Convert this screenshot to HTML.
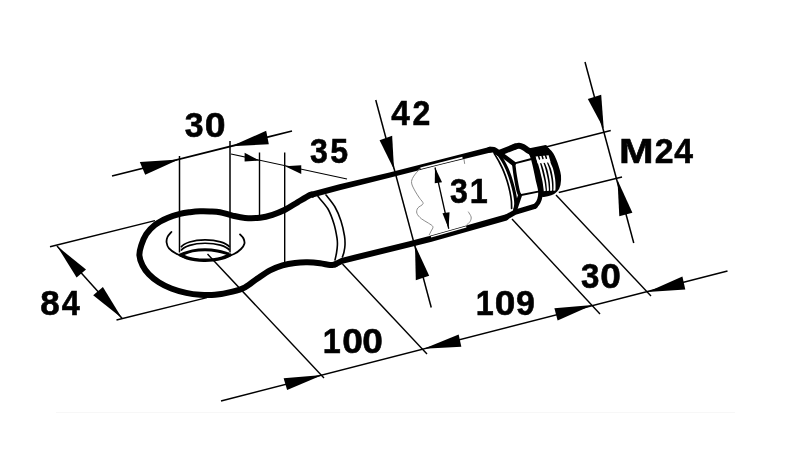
<!DOCTYPE html>
<html><head><meta charset="utf-8"><title>Drawing</title>
<style>
html,body{margin:0;padding:0;background:#fff;}
body{width:800px;height:450px;overflow:hidden;}
svg{display:block;}
text{font-family:"Liberation Sans",sans-serif;font-weight:bold;fill:#000;}
</style></head><body>
<svg width="800" height="450" viewBox="0 0 800 450">
<rect width="800" height="450" fill="#fff"/>
<line x1="56.00" y1="412.50" x2="735.00" y2="412.50" stroke="#f7f7f7" stroke-width="1.00"/>
<line x1="112.00" y1="176.00" x2="292.00" y2="131.00" stroke="#000" stroke-width="1.70"/>
<line x1="231.00" y1="154.00" x2="347.00" y2="179.00" stroke="#000" stroke-width="1.10"/>
<line x1="179.50" y1="156.00" x2="179.50" y2="252.50" stroke="#000" stroke-width="1.50"/>
<line x1="230.00" y1="141.00" x2="230.00" y2="252.50" stroke="#000" stroke-width="1.50"/>
<line x1="259.50" y1="152.50" x2="259.50" y2="216.00" stroke="#000" stroke-width="1.40"/>
<line x1="284.70" y1="152.50" x2="284.70" y2="263.00" stroke="#000" stroke-width="1.40"/>
<line x1="50.00" y1="246.80" x2="155.00" y2="220.60" stroke="#000" stroke-width="1.40"/>
<line x1="116.50" y1="320.00" x2="207.00" y2="297.60" stroke="#000" stroke-width="1.40"/>
<line x1="57.00" y1="246.00" x2="122.00" y2="318.30" stroke="#000" stroke-width="1.50"/>
<line x1="207.50" y1="254.00" x2="324.00" y2="378.00" stroke="#000" stroke-width="1.40"/>
<line x1="342.50" y1="264.00" x2="427.00" y2="354.00" stroke="#000" stroke-width="1.40"/>
<line x1="512.00" y1="219.00" x2="600.00" y2="314.00" stroke="#000" stroke-width="1.40"/>
<line x1="556.00" y1="195.00" x2="651.00" y2="296.00" stroke="#000" stroke-width="1.40"/>
<line x1="221.00" y1="401.00" x2="727.50" y2="271.00" stroke="#000" stroke-width="1.50"/>
<line x1="375.75" y1="100.00" x2="431.25" y2="307.50" stroke="#000" stroke-width="1.50"/>
<line x1="435.00" y1="167.50" x2="448.75" y2="228.75" stroke="#000" stroke-width="1.30"/>
<line x1="585.00" y1="62.00" x2="633.75" y2="243.00" stroke="#000" stroke-width="1.50"/>
<line x1="544.00" y1="147.50" x2="610.75" y2="130.50" stroke="#000" stroke-width="1.40"/>
<line x1="558.75" y1="192.50" x2="622.00" y2="177.00" stroke="#000" stroke-width="1.40"/>
<polygon points="178.75,159.50 139.82,162.09 145.18,174.66" fill="#000"/>
<polygon points="231.25,146.25 266.16,130.81 268.84,144.19" fill="#000"/>
<polygon points="259.40,160.60 244.60,152.82 244.60,161.38" fill="#000"/>
<polygon points="285.00,166.25 301.25,165.21 301.25,174.04" fill="#000"/>
<polygon points="57.00,246.00 76.60,277.40 86.00,269.60" fill="#000"/>
<polygon points="122.00,318.30 93.20,295.20 102.90,287.00" fill="#000"/>
<polygon points="394.00,169.50 379.59,140.14 392.16,135.86" fill="#000"/>
<polygon points="415.00,245.00 415.81,280.14 429.19,275.86" fill="#000"/>
<polygon points="435.00,167.50 434.76,183.34 442.04,182.16" fill="#000"/>
<polygon points="448.60,228.50 442.47,213.34 449.53,212.16" fill="#000"/>
<polygon points="603.75,128.75 587.81,98.88 601.19,94.87" fill="#000"/>
<polygon points="617.50,180.00 619.30,216.20 632.40,212.80" fill="#000"/>
<polygon points="322.50,375.00 283.64,378.37 287.11,389.88" fill="#000"/>
<polygon points="423.75,348.75 458.66,334.61 461.34,346.64" fill="#000"/>
<polygon points="592.50,305.00 554.39,308.36 557.61,320.39" fill="#000"/>
<polygon points="647.50,292.00 682.40,276.60 685.30,289.40" fill="#000"/>
<polygon points="311.76,197.70 340.72,190.06 390.63,177.42 440.64,164.72 490.70,152.51 489.30,146.89 439.36,159.68 389.37,172.38 339.28,184.34 310.24,191.90" fill="#000"/>
<circle cx="490" cy="149.7" r="2.9"/>
<path d="M312.00,194.80 C311.67,194.83 312.42,193.75 310.00,195.00 C307.58,196.25 301.67,199.83 297.50,202.30 C293.33,204.77 289.17,207.72 285.00,209.80 C280.83,211.88 276.67,213.49 272.50,214.80 C268.33,216.11 264.58,217.13 260.00,217.65 C255.42,218.17 249.58,218.24 245.00,217.90 C240.42,217.56 236.67,216.55 232.50,215.60 C228.33,214.65 223.75,212.90 220.00,212.20 C216.25,211.50 213.33,211.55 210.00,211.40 C206.67,211.25 203.33,211.17 200.00,211.30 C196.67,211.43 193.33,211.77 190.00,212.20 C186.67,212.63 183.75,212.95 180.00,213.90 C176.25,214.85 171.67,216.08 167.50,217.90 C163.33,219.72 158.54,222.09 155.00,224.80 C151.46,227.51 148.54,230.72 146.25,234.15 C143.96,237.58 142.39,241.86 141.25,245.40 C140.11,248.94 139.19,252.07 139.40,255.40 C139.61,258.73 140.94,262.27 142.50,265.40 C144.06,268.52 146.04,271.33 148.75,274.15 C151.46,276.97 155.00,279.91 158.75,282.30 C162.50,284.69 166.67,286.73 171.25,288.50 C175.83,290.27 181.46,291.85 186.25,292.90 C191.04,293.95 195.21,294.48 200.00,294.80 C204.79,295.12 209.58,295.32 215.00,294.80 C220.42,294.27 227.50,292.90 232.50,291.65 C237.50,290.40 240.83,289.49 245.00,287.30 C249.17,285.11 253.33,281.32 257.50,278.50 C261.67,275.68 265.83,272.58 270.00,270.40 C274.17,268.22 278.33,266.65 282.50,265.40 C286.67,264.15 290.83,263.42 295.00,262.90 C299.17,262.38 303.33,262.25 307.50,262.30 C311.67,262.35 316.25,262.75 320.00,263.20 C323.75,263.65 327.50,264.80 330.00,265.00 C332.50,265.20 334.17,264.50 335.00,264.40" fill="none" stroke="#000" stroke-width="6.00" stroke-linecap="round" stroke-linejoin="round" />
<path d="M335,264.4 L342,260.8 L410,244.1 L430,239 L506,217.5" fill="none" stroke="#000" stroke-width="6.00" stroke-linecap="round" stroke-linejoin="round" />
<path d="M318.00,196.60 C319.67,198.67 325.33,204.43 328.00,209.00 C330.67,213.57 332.50,219.17 334.00,224.00 C335.50,228.83 336.43,234.50 337.00,238.00 C337.57,241.50 337.48,242.50 337.40,245.00 C337.32,247.50 336.90,250.50 336.50,253.00 C336.10,255.50 335.25,258.83 335.00,260.00" fill="none" stroke="#000" stroke-width="1.60" stroke-linecap="round" stroke-linejoin="round" />
<path d="M326.00,195.00 C327.50,197.00 332.50,202.67 335.00,207.00 C337.50,211.33 339.42,216.17 341.00,221.00 C342.58,225.83 343.83,232.00 344.50,236.00 C345.17,240.00 345.08,242.33 345.00,245.00 C344.92,247.67 344.43,250.00 344.00,252.00 C343.57,254.00 342.67,256.17 342.40,257.00" fill="none" stroke="#000" stroke-width="1.60" stroke-linecap="round" stroke-linejoin="round" />
<path d="M181,247.3 A25,9.5 0 0 1 229.5,247" fill="none" stroke="#000" stroke-width="1.7"/>
<path d="M181,250.6 A25,9.5 0 0 1 229.5,250.3" fill="none" stroke="#000" stroke-width="1.7"/>
<path d="M182.00,254.20 C183.75,253.65 188.67,251.63 192.50,250.90 C196.33,250.17 200.83,249.80 205.00,249.80 C209.17,249.80 213.67,250.23 217.50,250.90 C221.33,251.57 226.25,253.32 228.00,253.80" fill="none" stroke="#000" stroke-width="3.00" stroke-linecap="round" stroke-linejoin="round" />
<path d="M171.40,232.00 C170.75,232.83 168.30,235.25 167.50,237.00 C166.70,238.75 166.35,240.60 166.60,242.50 C166.85,244.40 167.43,246.57 169.00,248.40 C170.57,250.23 173.25,251.97 176.00,253.50 C178.75,255.03 182.33,256.62 185.50,257.60 C188.67,258.58 191.96,258.97 195.00,259.40 C198.04,259.83 200.75,260.13 203.75,260.20 C206.75,260.27 209.96,260.13 213.00,259.80 C216.04,259.47 218.50,259.17 222.00,258.20 C225.50,257.23 230.83,255.53 234.00,254.00 C237.17,252.47 239.27,250.71 241.00,249.00 C242.73,247.29 243.98,245.50 244.40,243.75 C244.82,242.00 244.23,240.06 243.50,238.50 C242.77,236.94 240.58,235.08 240.00,234.40" fill="none" stroke="#000" stroke-width="1.80" stroke-linecap="round" stroke-linejoin="round" />
<path d="M180.50,255.00 C181.58,255.47 184.58,257.03 187.00,257.80 C189.42,258.57 192.21,259.18 195.00,259.60 C197.79,260.02 200.75,260.25 203.75,260.30 C206.75,260.35 209.96,260.25 213.00,259.90 C216.04,259.55 219.17,259.02 222.00,258.20 C224.83,257.38 228.67,255.53 230.00,255.00" fill="none" stroke="#000" stroke-width="3.40" stroke-linecap="round" stroke-linejoin="round" />
<path d="M419.60,168.90 C418.55,170.23 414.63,174.53 413.30,176.90 C411.97,179.27 411.30,180.73 411.60,183.10 C411.90,185.47 413.77,188.58 415.10,191.10 C416.43,193.62 418.27,196.12 419.60,198.20 C420.93,200.28 423.40,201.97 423.10,203.60 C422.80,205.23 418.83,206.38 417.80,208.00 C416.77,209.62 416.32,211.52 416.90,213.30 C417.48,215.08 419.38,217.07 421.30,218.70 C423.22,220.33 426.47,221.77 428.40,223.10 C430.33,224.43 432.45,225.37 432.90,226.70 C433.35,228.03 431.70,229.77 431.10,231.10 C430.50,232.43 429.60,234.10 429.30,234.70" fill="none" stroke="#8c8c8c" stroke-width="1.00" stroke-linecap="round" stroke-linejoin="round" />
<path d="M420.5,168.2 L462.5,157.6" fill="none" stroke="#fff" stroke-width="1.70" stroke-linejoin="round" stroke-linecap="butt"/>
<path d="M468.40,212.00 C468.85,212.82 470.80,215.35 471.10,216.90 C471.40,218.45 470.93,219.97 470.20,221.30 C469.47,222.63 467.28,224.30 466.70,224.90" fill="none" stroke="#8c8c8c" stroke-width="1.00" stroke-linecap="round" stroke-linejoin="round" />
<path d="M464,159.4 L464.6,163.5" fill="none" stroke="#8c8c8c" stroke-width="1.00" stroke-linecap="round" stroke-linejoin="round" />
<path d="M431,236.9 L466.3,226.9" fill="none" stroke="#fff" stroke-width="1.50" stroke-linejoin="round" stroke-linecap="butt"/>
<path d="M490.00,149.70 C490.58,149.72 492.42,149.48 493.50,149.80 C494.58,150.12 495.58,151.05 496.50,151.60 C497.42,152.15 498.58,152.85 499.00,153.10" fill="none" stroke="#000" stroke-width="5.80" stroke-linecap="round" stroke-linejoin="round" />
<path d="M499,153.1 L515,146.6" fill="none" stroke="#000" stroke-width="6.00" stroke-linecap="round" stroke-linejoin="round" />
<path d="M515.00,146.60 C515.67,146.47 517.67,145.73 519.00,145.80 C520.33,145.87 521.67,146.35 523.00,147.00 C524.33,147.65 525.83,148.95 527.00,149.70 C528.17,150.45 529.50,151.20 530.00,151.50" fill="none" stroke="#000" stroke-width="6.00" stroke-linecap="round" stroke-linejoin="round" />
<path d="M530,151 L545,147.8" fill="none" stroke="#000" stroke-width="5.40" stroke-linecap="round" stroke-linejoin="round" />
<path d="M532.00,150.80 C534.08,150.33 541.73,148.20 544.50,148.00 C547.27,147.80 547.28,148.57 548.60,149.60 C549.92,150.63 551.27,152.38 552.40,154.20 C553.53,156.02 554.52,158.37 555.40,160.50 C556.28,162.63 556.97,164.50 557.70,167.00 C558.43,169.50 559.53,172.55 559.80,175.50 C560.07,178.45 559.88,182.15 559.30,184.70 C558.72,187.25 557.70,189.22 556.30,190.80 C554.90,192.38 552.98,193.37 550.90,194.20 C548.82,195.03 545.32,195.67 543.80,195.80 C542.28,195.93 542.22,195.97 541.80,195.00 C541.38,194.03 541.77,192.50 541.30,190.00 C540.83,187.50 539.80,183.67 539.00,180.00 C538.20,176.33 537.33,171.67 536.50,168.00 C535.67,164.33 534.42,159.67 534.00,158.00 Z" fill="#000" stroke="#000" stroke-width="2.4" stroke-linejoin="round"/>
<path d="M537.30,157.50 C537.48,158.17 537.87,159.63 538.40,161.50 C538.93,163.37 539.88,166.40 540.50,168.70 C541.12,171.00 541.58,173.08 542.10,175.30 C542.62,177.52 543.20,179.77 543.60,182.00 C544.00,184.23 544.30,187.20 544.50,188.70 C544.70,190.20 544.75,190.62 544.80,191.00" fill="none" stroke="#fff" stroke-width="2.00" stroke-linejoin="round" stroke-linecap="butt"/>
<path d="M540.80,157.83 C541.01,158.50 541.44,160.02 542.03,161.83 C542.62,163.64 543.69,166.46 544.33,168.70 C544.98,170.94 545.42,173.08 545.90,175.30 C546.38,177.52 546.88,179.77 547.20,182.00 C547.52,184.23 547.72,187.22 547.83,188.70 C547.95,190.18 547.89,190.51 547.90,190.87" fill="none" stroke="#fff" stroke-width="2.00" stroke-linejoin="round" stroke-linecap="butt"/>
<path d="M544.30,158.17 C544.53,158.83 545.02,160.41 545.67,162.17 C546.31,163.92 547.49,166.51 548.17,168.70 C548.84,170.89 549.26,173.08 549.70,175.30 C550.14,177.52 550.56,179.77 550.80,182.00 C551.04,184.23 551.13,187.24 551.17,188.70 C551.20,190.16 551.03,190.39 551.00,190.73" fill="none" stroke="#fff" stroke-width="2.00" stroke-linejoin="round" stroke-linecap="butt"/>
<path d="M547.80,158.50 C548.05,159.17 548.60,160.80 549.30,162.50 C550.00,164.20 551.30,166.57 552.00,168.70 C552.70,170.83 553.10,173.08 553.50,175.30 C553.90,177.52 554.23,179.77 554.40,182.00 C554.57,184.23 554.55,187.27 554.50,188.70 C554.45,190.13 554.17,190.28 554.10,190.60" fill="none" stroke="#fff" stroke-width="2.00" stroke-linejoin="round" stroke-linecap="butt"/>
<polygon points="535.60,156.60 548.60,155.20 550.60,162.20 537.60,163.60" fill="#fff"/>
<path d="M538.40,155.60 l1.1,3.4" fill="none" stroke="#000" stroke-width="1.50" stroke-linecap="round" stroke-linejoin="round" />
<path d="M541.85,155.19 l1.1,3.4" fill="none" stroke="#000" stroke-width="1.50" stroke-linecap="round" stroke-linejoin="round" />
<path d="M545.30,154.77 l1.1,3.4" fill="none" stroke="#000" stroke-width="1.50" stroke-linecap="round" stroke-linejoin="round" />
<path d="M530.00,150.70 C530.50,151.92 532.08,155.12 533.00,158.00 C533.92,160.88 534.67,164.33 535.50,168.00 C536.33,171.67 537.20,176.33 538.00,180.00 C538.80,183.67 539.92,187.33 540.30,190.00 C540.68,192.67 540.63,193.95 540.30,196.00 C539.97,198.05 539.18,200.60 538.30,202.30 C537.42,204.00 535.55,205.55 535.00,206.20" fill="none" stroke="#000" stroke-width="4.60" stroke-linecap="round" stroke-linejoin="round" />
<path d="M535,206.2 L515,212.3 L506,217.3" fill="none" stroke="#000" stroke-width="5.20" stroke-linecap="round" stroke-linejoin="round" />
<path d="M499.5,153 L513.6,163.6" fill="none" stroke="#000" stroke-width="4.60" stroke-linecap="round" stroke-linejoin="round" />
<path d="M513.60,163.40 C513.88,165.52 514.53,171.47 515.30,176.10 C516.07,180.73 517.42,188.00 518.20,191.20 C518.98,194.40 519.70,194.62 520.00,195.30" fill="none" stroke="#000" stroke-width="3.40" stroke-linecap="round" stroke-linejoin="round" />
<path d="M520,195.3 L515,210.5" fill="none" stroke="#000" stroke-width="4.00" stroke-linecap="round" stroke-linejoin="round" />
<path d="M513.6,163.6 L531.5,159" fill="none" stroke="#000" stroke-width="2.00" stroke-linecap="round" stroke-linejoin="round" />
<path d="M520,195.3 L539.5,191.4" fill="none" stroke="#000" stroke-width="1.90" stroke-linecap="round" stroke-linejoin="round" />
<path d="M494.30,153.50 C495.17,155.00 497.93,159.52 499.50,162.50 C501.07,165.48 502.40,168.23 503.70,171.40 C505.00,174.57 506.27,178.12 507.30,181.50 C508.33,184.88 509.22,188.45 509.90,191.70 C510.58,194.95 511.12,198.20 511.40,201.00 C511.68,203.80 511.57,207.25 511.60,208.50" fill="none" stroke="#000" stroke-width="1.70" stroke-linecap="round" stroke-linejoin="round" />
<path d="M498.20,153.80 C499.00,155.00 501.57,158.58 503.00,161.00 C504.43,163.42 505.67,165.80 506.80,168.30 C507.93,170.80 508.90,173.40 509.80,176.00 C510.70,178.60 511.50,181.40 512.20,183.90 C512.90,186.40 513.48,188.67 514.00,191.00 C514.52,193.33 515.00,195.73 515.30,197.90 C515.60,200.07 515.85,202.07 515.80,204.00 C515.75,205.93 515.13,208.58 515.00,209.50" fill="none" stroke="#000" stroke-width="3.20" stroke-linecap="round" stroke-linejoin="round" />
<g style="opacity:0.999"><text transform="translate(184.73,137.42) scale(0.9405,0.9654)" font-size="36" stroke="#000" stroke-width="0.6">3</text><text transform="translate(204.80,137.42) scale(1.0400,0.9654)" font-size="36" stroke="#000" stroke-width="0.6">0</text><text transform="translate(310.05,162.52) scale(0.8919,0.9615)" font-size="36" stroke="#000" stroke-width="0.6">3</text><text transform="translate(330.33,162.52) scale(0.8919,0.9615)" font-size="36" stroke="#000" stroke-width="0.6">5</text><text transform="translate(391.27,124.52) scale(0.9250,0.9615)" font-size="36" stroke="#000" stroke-width="0.6">4</text><text transform="translate(412.61,124.52) scale(0.8889,0.9615)" font-size="36" stroke="#000" stroke-width="0.6">2</text><text transform="translate(618.94,162.52) scale(1.1538,0.9615)" font-size="36" stroke="#000" stroke-width="0.6">M</text><text transform="translate(654.66,162.52) scale(0.9389,0.9615)" font-size="36" stroke="#000" stroke-width="0.6">2</text><text transform="translate(674.17,162.52) scale(0.9350,0.9615)" font-size="36" stroke="#000" stroke-width="0.6">4</text><text transform="translate(450.05,202.52) scale(0.8919,0.9615)" font-size="36" stroke="#000" stroke-width="0.6">3</text><text transform="translate(469.70,202.52) scale(0.8986,0.9615)" font-size="36" stroke="#000" stroke-width="0.6">1</text><text transform="translate(40.27,314.52) scale(0.9730,0.9615)" font-size="36" stroke="#000" stroke-width="0.6">8</text><text transform="translate(61.77,314.52) scale(0.9000,0.9615)" font-size="36" stroke="#000" stroke-width="0.6">4</text><text transform="translate(322.70,352.52) scale(0.8986,0.9615)" font-size="36" stroke="#000" stroke-width="0.6">1</text><text transform="translate(342.21,352.52) scale(1.0286,0.9615)" font-size="36" stroke="#000" stroke-width="0.6">0</text><text transform="translate(362.21,352.52) scale(1.0286,0.9615)" font-size="36" stroke="#000" stroke-width="0.6">0</text><text transform="translate(475.70,314.52) scale(0.8986,0.9615)" font-size="36" stroke="#000" stroke-width="0.6">1</text><text transform="translate(494.71,314.52) scale(1.0286,0.9615)" font-size="36" stroke="#000" stroke-width="0.6">0</text><text transform="translate(516.06,314.52) scale(0.9444,0.9615)" font-size="36" stroke="#000" stroke-width="0.6">9</text><text transform="translate(581.04,287.52) scale(0.9189,0.9615)" font-size="36" stroke="#000" stroke-width="0.6">3</text><text transform="translate(600.21,287.52) scale(1.0286,0.9615)" font-size="36" stroke="#000" stroke-width="0.6">0</text></g>
</svg>
</body></html>
